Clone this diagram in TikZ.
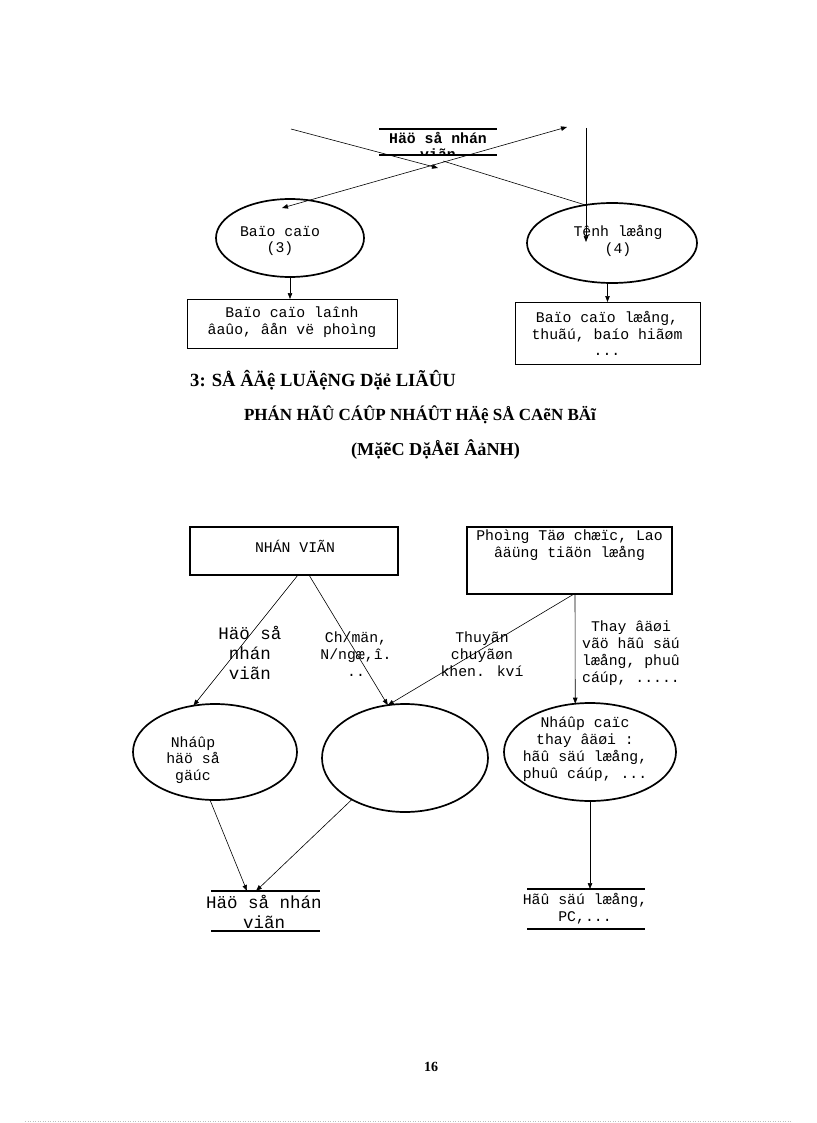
\documentclass[tikz,border=0pt]{standalone}
\usepackage{fontspec}
\setmainfont{Liberation Serif}
\newfontfamily\monof{Liberation Mono}
\usetikzlibrary{arrows.meta,shapes.geometric}
\begin{document}
\begin{tikzpicture}[x=1pt,y=-1pt,
  tx/.style={font=\monof\fontsize{14.8}{16.8}\selectfont, align=center, inner sep=0pt},
  bigtx/.style={font=\monof\fontsize{17.5}{20}\selectfont, align=center, inner sep=0pt},
  hd/.style={font=\bfseries\fontsize{17}{20}\selectfont, inner sep=0pt},
  ell/.style={ellipse, draw, line width=1.7pt, inner sep=0pt, outer sep=0pt},
  boxthin/.style={draw, line width=0.8pt, inner sep=0pt, outer sep=0pt},
  boxthick/.style={draw, line width=1.3pt, inner sep=0pt, outer sep=0pt},
  store/.style={inner sep=0pt, outer sep=0pt},
  storeline/.style={line width=2.4pt},
  con/.style={line width=0.6pt},
  arr/.style={line width=0.6pt, -{Triangle[length=6pt,width=4.5pt]}},
  arrboth/.style={line width=0.6pt, {Triangle[length=6pt,width=4.5pt]}-{Triangle[length=6pt,width=4.5pt]}}]
\useasboundingbox (0,0) rectangle (816,1123);
\fill[white] (0,0) rectangle (816,1123);

% ---------- top part ----------
\node[store, minimum width=118pt, minimum height=26pt] (s1) at (438,142) {};
\begin{scope}
  \clip (379,130) rectangle (497,154);
  \node[font=\monof\bfseries\fontsize{14.8}{16}\selectfont, align=center, inner sep=0pt] (s1t) at (438,146) {Häö så nhán\\viãn};
\end{scope}
\draw[storeline] (s1.north west) -- (s1.north east);
\draw[storeline] (s1.south west) -- (s1.south east);

\node[ell, minimum width=148pt, minimum height=78pt] (e3) at (290,238) {};
\node[tx] (e3t) at (280,241) {Baïo caïo\\(3)};
\node[ell, minimum width=170pt, minimum height=80pt] (e4) at (612,243) {};
\node[tx] (e4t) at (618,241) {Tênh læång\\(4)};

\node[boxthin, minimum width=210pt, minimum height=49pt] (b3) at (292,323.5) {};
\node[tx] (b3t) at (292,322) {Baïo caïo laînh\\âaûo, âån vë phoìng};
\node[boxthin, minimum width=185pt, minimum height=62pt] (b4) at (607.5,333) {};
\node[tx] (b4t) at (607,333.5) {Baïo caïo læång,\\thuãú, baío hiãøm\\...};

\coordinate (a1) at (291,129);
\coordinate (a2) at (438,168);
\draw[arr] (a1) -- (a2);
\coordinate (b1) at (443,161);
\draw[con] (b1) -- (e4.125);
\coordinate (c1) at (282,208);
\coordinate (c2) at (567,127);
\draw[arrboth] (c1) -- (c2);
\coordinate (d1) at (586,128);
\coordinate (d2) at (586,242);
\draw[arr] (d1) -- (d2);
\draw[arr] (e3.south) -- (e3.south |- b3.north);
\draw[arr] (b4.north |- e4.south) -- (b4.north);

% ---------- headings ----------
\node[hd, font=\bfseries\fontsize{18.6}{20}\selectfont, anchor=west] (h1) at (190,380) {3: SÅ ÂÄệ LUÄệNG Dặẻ LIÃÛU};
\node[hd] (h2) at (420,415) {PHÁN HÃÛ CÁÛP NHÁÛT HÄệ SÅ CAẽN BÄĩ};
\node[hd, font=\bfseries\fontsize{18.2}{20}\selectfont] (h3) at (435.5,450) {(MặẽC DặÅẽI ÂảNH)};

% ---------- bottom part ----------
\node[boxthick, minimum width=208pt, minimum height=48pt] (bNV) at (294,551) {};
\node[tx] (bNVt) at (295,546) {NHÁN VIÃN};
\node[boxthick, minimum width=205pt, minimum height=67pt] (bPh) at (569.5,560.5) {};
\node[tx] (bPht) at (569.5,545) {Phoìng Täø chæïc, Lao\\âäüng tiãön læång};

\node[ell, minimum width=164pt, minimum height=96pt] (eL) at (215,752) {};
\node[tx] (eLt) at (193,760) {Nháûp\\häö så\\gäúc};
\node[ell, minimum width=166pt, minimum height=108pt] (eM) at (405,758) {};
\node[ell, minimum width=172pt, minimum height=98pt] (eR) at (590,752) {};
\node[tx] (eRt) at (585,749) {Nháûp caïc\\thay âäøi :\\hãû säú læång,\\phuû cáúp, ...};

\node[bigtx] (l1) at (250,653) {Häö så\\nhán\\viãn};
\node[tx] (l2) at (356,654) {Ch/män,\\N/ngæ,î.\\..};
\node[tx] (l3) at (482,654) {Thuyãn\\chuyãøn\\khen. kví};
\node[tx] (l4) at (631,653) {Thay âäøi\\vãö hãû säú\\læång, phuû\\cáúp, .....};

\node[store, minimum width=109pt, minimum height=40pt] (sL) at (265.5,911) {};
\node[bigtx] (sLt) at (264,912) {Häö så nhán\\viãn};
\draw[storeline] (sL.north west) -- (sL.north east);
\draw[storeline] (sL.south west) -- (sL.south east);
\node[store, minimum width=118pt, minimum height=40pt] (sR) at (586,909) {};
\node[tx] (sRt) at (585,908.5) {Hãû säú læång,\\PC,...};
\draw[storeline] (sR.north west) -- (sR.north east);
\draw[storeline] (sR.south west) -- (sR.south east);

\draw[arr] ([xshift=4pt]bNV.south) -- (eL.115);
\draw[arr] ([xshift=15pt]bNV.south) -- (eM.108);
\draw[arr] ([xshift=4.5pt]bPh.south) -- (eM.108);
\draw[arr] ([xshift=5.5pt]bPh.south) -- (eR.107);
\draw[arr] (eL.-96) -- ([xshift=-18.5pt]sL.north);
\draw[arr] (eM.-142) -- ([xshift=-9.5pt]sL.north);
\draw[arr] (eR.south) -- (eR.south |- sR.north);

% ---------- footer ----------
\node[font=\bfseries\fontsize{14}{16}\selectfont, inner sep=0pt] (pg) at (431,1067) {16};
\coordinate (f1) at (25,1121);
\coordinate (f2) at (792,1121);
\draw[gray!50, line width=0.5pt, dotted] (f1) -- (f2);
\end{tikzpicture}
\end{document}
